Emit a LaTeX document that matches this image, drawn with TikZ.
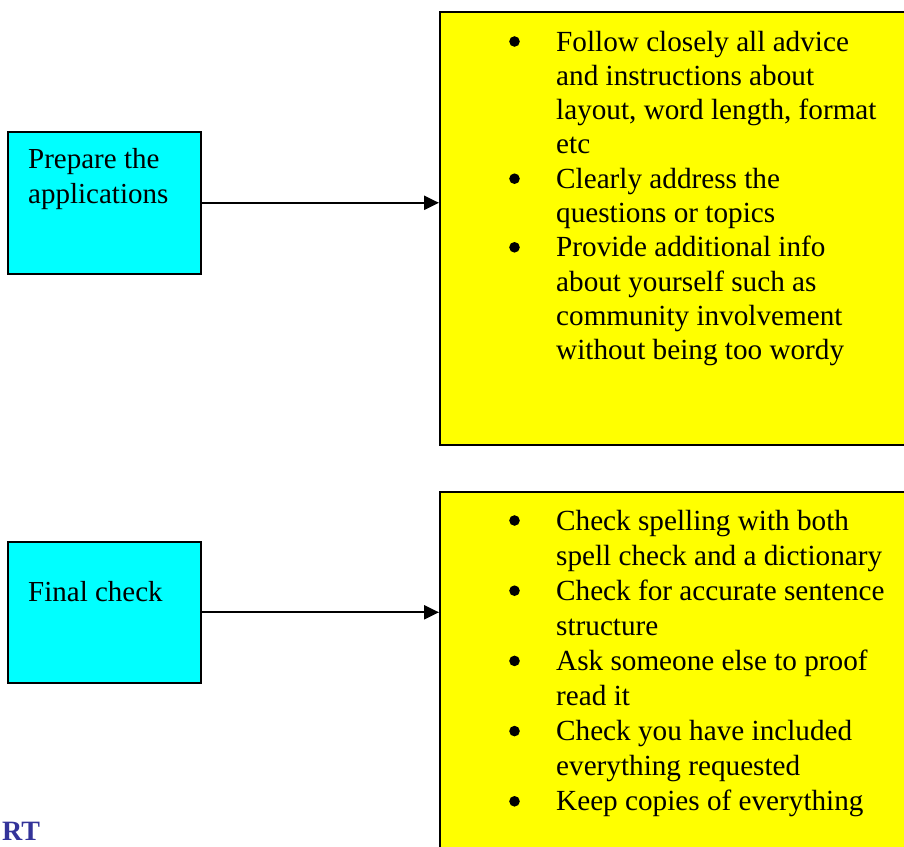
\documentclass[tikz,border=0pt]{standalone}
\usepackage{fontspec}
\setmainfont{Liberation Serif}
\usetikzlibrary{arrows.meta, calc}
\definecolor{titleblue}{RGB}{51,51,153}
\definecolor{stepcyan}{RGB}{0,255,255}
\definecolor{noteyellow}{RGB}{255,255,0}
\newcommand{\blt}{\tikz[baseline=0pt]\fill[black] (0pt,9.5pt) circle[radius=5.3pt];}

\begin{document}
\begin{tikzpicture}[
        x=1pt, y=-1pt,
        stepbox/.style={rectangle, draw, line width=1.6pt, fill=stepcyan, minimum width=193pt, anchor=north west, inner sep=0pt},
        notebox/.style={rectangle, draw, line width=1.6pt, fill=noteyellow, minimum width=480pt, anchor=north west, inner sep=0pt},
        steptext/.style={anchor=base west, inner sep=0pt, font=\fontsize{29}{35}\selectfont},
        listtext/.style={anchor=base west, inner sep=0pt, font=\fontsize{29.2}{#1}\selectfont},
        arrow/.style={-{Triangle[length=15pt, width=14pt]}, line width=2.2pt}
    ]
        \useasboundingbox (0,0) rectangle (904,846);
        \clip (0,0) rectangle (904,846);

        % 1. Preparing the applications
        \node (prep) [stepbox, minimum height=142pt] at (7,131) {};
        \node (preptext) [steptext] at (28,168) {\begin{tabular}[t]{@{}l@{}}Prepare the\\ applications\end{tabular}};
        \node (prepnotes) [notebox, minimum height=433pt] at (439,11) {};
        \node (preplist) [listtext=34.3] at (509,51) {\begin{tabular}[t]{@{}p{47pt}@{}l@{}}
            \blt & Follow closely all advice\\
                 & and instructions about\\
                 & layout, word length, format\\
                 & etc\\
            \blt & Clearly address the\\
                 & questions or topics\\
            \blt & Provide additional info\\
                 & about yourself such as\\
                 & community involvement\\
                 & without being too wordy
        \end{tabular}};

        % 2. Final check
        \node (final) [stepbox, minimum height=141pt] at (7,541) {};
        \node (finaltext) [steptext] at (28,601) {Final check};
        \node (finalnotes) [notebox, minimum height=400pt] at (439,491) {};
        \node (finallist) [listtext=35.1] at (509,530) {\begin{tabular}[t]{@{}p{47pt}@{}l@{}}
            \blt & Check spelling with both\\
                 & spell check and a dictionary\\
            \blt & Check for accurate sentence\\
                 & structure\\
            \blt & Ask someone else to proof\\
                 & read it\\
            \blt & Check you have included\\
                 & everything requested\\
            \blt & Keep copies of everything
        \end{tabular}};

        % 3. Heading cut off at the bottom
        \node (report) [anchor=base west, inner sep=0pt, font=\fontsize{28}{34}\selectfont\bfseries, text=titleblue] at (2,840) {RT};

        % Connections
        \draw [arrow] (prep.east) -- (prep.east -| prepnotes.west);
        \draw [arrow] (final.east) -- (final.east -| finalnotes.west);

    \end{tikzpicture}
\end{document}
